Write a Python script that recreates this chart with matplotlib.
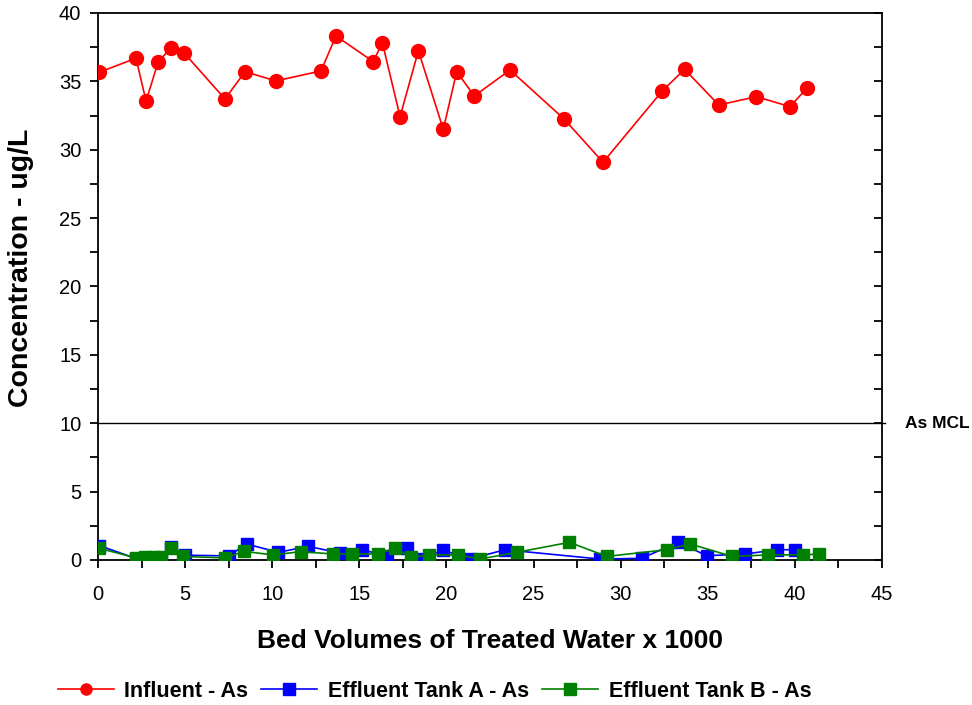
import matplotlib
matplotlib.use("Agg")
import matplotlib.pyplot as plt
from matplotlib.ticker import MultipleLocator

plt.rcParams['font.family'] = ['Liberation Sans', 'DejaVu Sans']

# Influent arsenic
inf_x = [0.06, 2.18, 2.76, 3.46, 4.17, 4.96, 7.29, 8.44, 10.2, 12.8, 13.66, 15.8, 16.32,
         17.34, 18.39, 19.82, 20.59, 21.6, 23.65, 26.75, 28.99, 32.39, 33.67, 35.63,
         37.79, 39.72, 40.68]
inf_y = [35.66, 36.69, 33.56, 36.44, 37.42, 37.05, 33.71, 35.71, 35.03, 35.76, 38.32, 36.44,
         37.83, 32.42, 37.24, 31.49, 35.71, 33.93, 35.83, 32.25, 29.08, 34.30, 35.88, 33.27,
         33.88, 33.15, 34.49]

# Effluent Tank A
a_x = [0.08, 2.2, 2.8, 3.3, 3.6, 4.2, 5.0, 7.5, 8.53, 10.35, 12.07, 13.9, 15.13, 16.6,
       17.72, 18.5, 19.8, 21.35, 23.36, 28.8, 31.2, 33.31, 34.94, 37.14, 39.0, 40.0]
a_y = [1.05, 0.1, 0.0, 0.1, 0.15, 0.95, 0.35, 0.3, 1.17, 0.56, 1.0, 0.5, 0.75, 0.3,
       0.85, 0.07, 0.72, 0.07, 0.75, 0.07, 0.12, 1.3, 0.31, 0.44, 0.75, 0.75]

# Effluent Tank B
b_x = [0.08, 2.2, 2.7, 3.2, 3.6, 4.19, 4.9, 7.29, 8.38, 10.06, 11.65, 13.47, 14.56, 16.06,
       17.05, 17.97, 19.0, 20.68, 21.93, 24.03, 27.06, 29.2, 32.64, 33.98, 36.41, 38.47,
       40.49, 41.41]
b_y = [0.85, 0.15, 0.2, 0.2, 0.2, 0.85, 0.26, 0.15, 0.63, 0.37, 0.61, 0.44, 0.44, 0.44,
       0.85, 0.19, 0.37, 0.37, 0.07, 0.56, 1.29, 0.26, 0.75, 1.17, 0.26, 0.37, 0.37, 0.44]

mcl = 10

fig = plt.figure(figsize=(9.72, 7.05), dpi=100)
ax = fig.add_axes([0.1008, 0.2057, 0.8066, 0.7759])

ax.plot(inf_x, inf_y, color='#FF0000', lw=1.2, marker='o', ms=10,
        markeredgecolor='#FF0000', label='Influent - As', zorder=3)
ax.plot(a_x, a_y, color='#0000FF', lw=1.2, marker='s', ms=9,
        markeredgecolor='#0000FF', label='Effluent Tank A - As', zorder=3)
ax.plot(b_x, b_y, color='#008000', lw=1.2, marker='s', ms=9,
        markeredgecolor='#008000', label='Effluent Tank B - As', zorder=4)

ax.plot([0, 45.2], [mcl, mcl], color='black', lw=1.0, clip_on=False, zorder=2)
ax.text(46.3, mcl, 'As MCL', fontsize=12.5, fontweight='bold', va='center', ha='left')

ax.set_xlim(0, 45)
ax.set_ylim(0, 40)
ax.xaxis.set_major_locator(MultipleLocator(5))
ax.xaxis.set_minor_locator(MultipleLocator(2.5))
ax.yaxis.set_major_locator(MultipleLocator(5))
ax.yaxis.set_minor_locator(MultipleLocator(2.5))

for s in ax.spines.values():
    s.set_linewidth(1.3)
ax.tick_params(axis='both', which='both', direction='out', length=6, width=1.3,
               labelsize=14.5)
ax.tick_params(axis='x', which='major', pad=12)
ax.tick_params(axis='y', which='major', pad=6)
ax.tick_params(axis='y', which='both', right=True, left=True)
ax.tick_params(axis='y', which='both', labelright=False)
# Right side ticks point inward
for t in ax.yaxis.get_major_ticks() + ax.yaxis.get_minor_ticks():
    t.tick2line.set_marker(matplotlib.lines.TICKLEFT)
    t.tick2line.set_markersize(6)

ax.set_xlabel('Bed Volumes of Treated Water x 1000', fontsize=19, fontweight='bold',
              labelpad=18)
ax.set_ylabel('Concentration - ug/L', fontsize=20.5, fontweight='bold')
ax.yaxis.set_label_coords(-0.081, 0.534)

leg = fig.legend(loc='lower center', bbox_to_anchor=(0.447, -0.023), ncol=3,
                 frameon=False, prop={'size': 15.5, 'weight': 'bold'},
                 handlelength=2.6, columnspacing=0.6, handletextpad=0.5)
for h in leg.legend_handles:
    h.set_markersize(8)

fig.savefig('out.png', dpi=100)
